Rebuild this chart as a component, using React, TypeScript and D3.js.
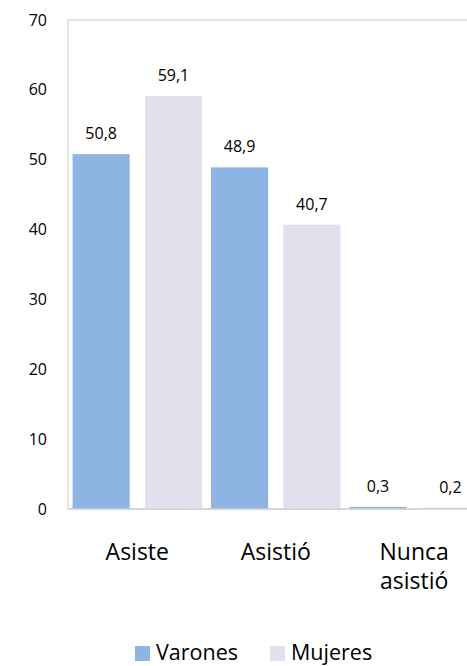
import React from "react";
import * as d3 from "d3";

const categories: string[][] = [["Asiste"], ["Asistió"], ["Nunca", "asistió"]];
const seriesNames = ["Varones", "Mujeres"];
const varones = [50.8, 48.9, 0.3];
const mujeres = [59.1, 40.7, 0.2];
const yTicks = [0, 10, 20, 30, 40, 50, 60, 70];
const colors = ["#8EB4E3", "#E4DFEC"];

const W = 467;
const H = 666;
const FONT = "'Open Sans', 'Noto Sans', sans-serif";

export default function App() {
  const left = 68;
  const right = 483.5;
  const top = 20;
  const bottom = 509;
  const y = d3.scaleLinear().domain([0, 70]).range([bottom, top]);
  const x0 = d3
    .scaleBand<number>()
    .domain(d3.range(categories.length))
    .range([left, right])
    .paddingInner(0.065)
    .paddingOuter(0.033);
  const x1 = d3.scaleBand<number>().domain([0, 1]).range([0, x0.bandwidth()]).paddingInner(0.21);
  const series = [varones, mujeres];
  const fmt = (v: number) => v.toFixed(1).replace(".", ",");

  return (
    <svg width={W} height={H} style={{ position: "absolute", left: 0, top: 0, background: "#fff" }} fontFamily={FONT}>
      <rect x={left} y={top} width={right - left} height={bottom - top} fill="none" stroke="#d9d9d9" strokeWidth={1.3} />
      {yTicks.map((t) => (
        <text key={t} x={47} y={y(t)} dy="0.35em" textAnchor="end" fontSize={16} fill="#000">
          {t}
        </text>
      ))}
      {categories.map((c, i) =>
        series.map((s, j) => {
          const bx = (x0(i) as number) + (x1(j) as number);
          const bw = x1.bandwidth();
          return (
            <g key={`${i}-${j}`}>
              <rect x={bx} y={y(s[i])} width={bw} height={bottom - y(s[i])} fill={colors[j]} />
              <text x={bx + bw / 2} y={y(s[i]) - 15} textAnchor="middle" fontSize={16} fill="#000">
                {fmt(s[i])}
              </text>
            </g>
          );
        })
      )}
      <line x1={left} x2={right} y1={bottom} y2={bottom} stroke="#d0d0d0" strokeWidth={1.5} />
      {categories.map((c, i) => (
        <text key={i} x={(x0(i) as number) + x0.bandwidth() / 2} y={560} textAnchor="middle" fontSize={23} fill="#000">
          {c.map((line, k) => (
            <tspan key={k} x={(x0(i) as number) + x0.bandwidth() / 2} dy={k === 0 ? 0 : 29}>
              {line}
            </tspan>
          ))}
        </text>
      ))}
      {seriesNames.map((n, j) => {
        const lx = [135, 270][j];
        return (
          <g key={n}>
            <rect x={lx} y={646} width={15} height={15} fill={colors[j]} />
            <text x={lx + 21} y={660} fontSize={21.5} fill="#000">
              {n}
            </text>
          </g>
        );
      })}
    </svg>
  );
}
